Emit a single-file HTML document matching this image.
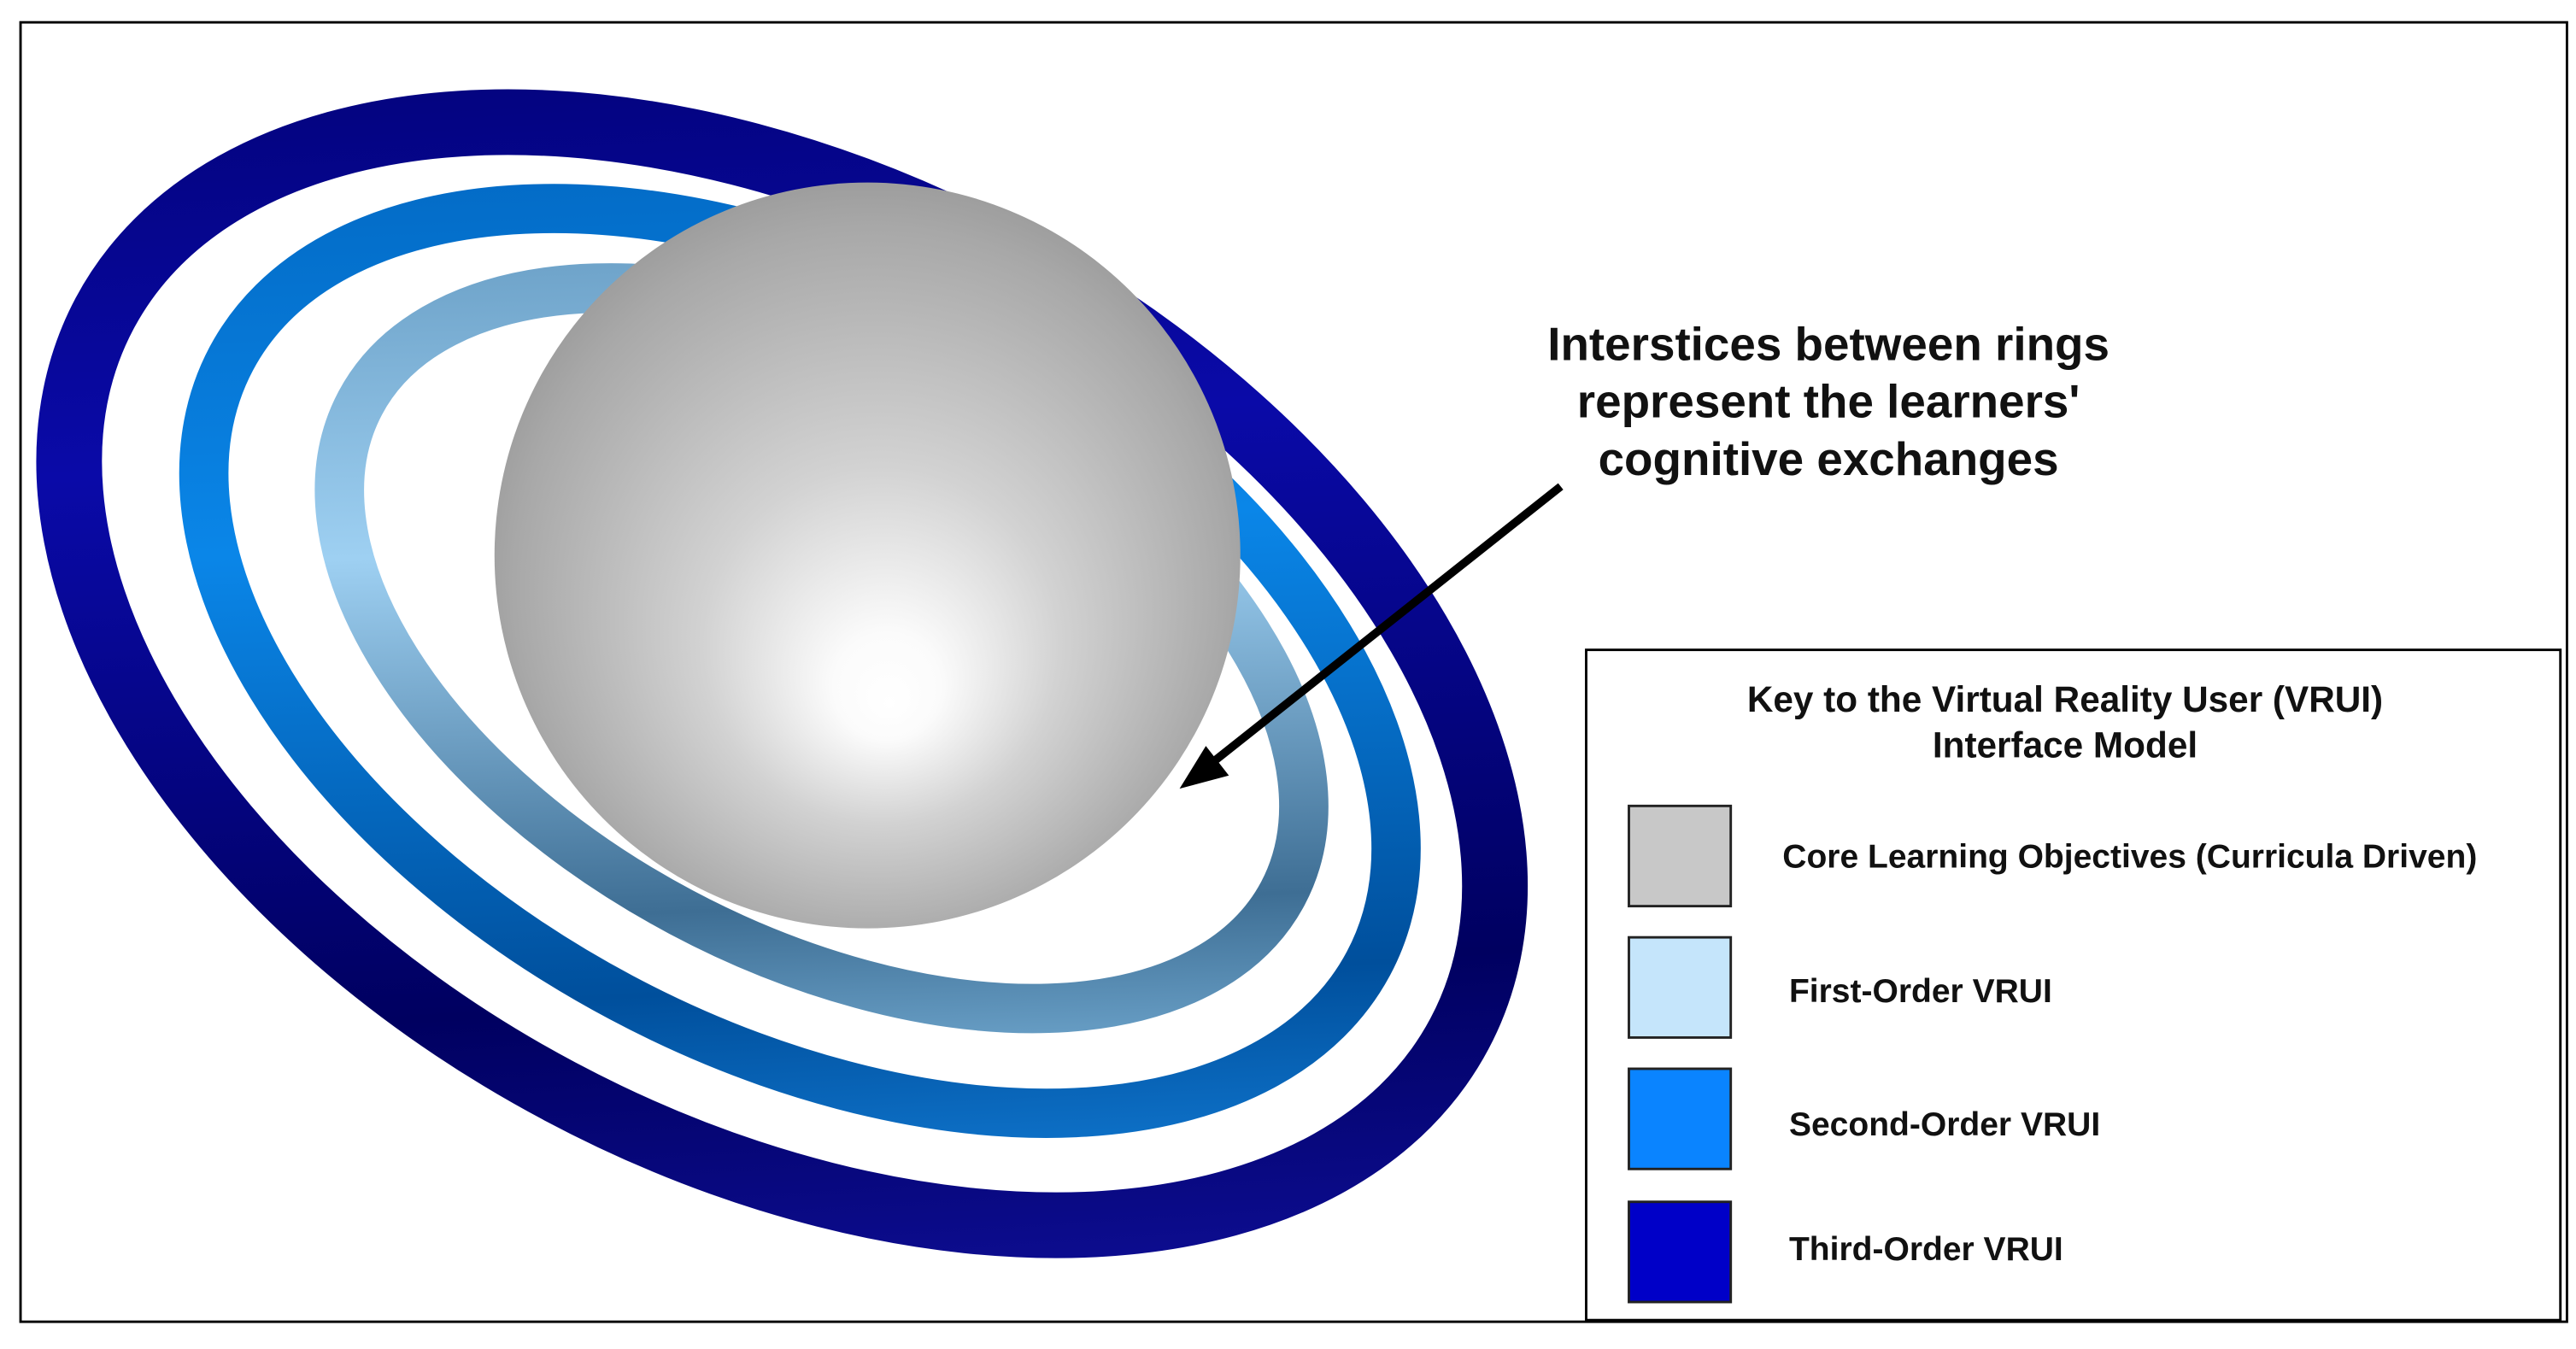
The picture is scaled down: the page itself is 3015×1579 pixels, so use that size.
<!DOCTYPE html>
<html><head><meta charset="utf-8"><style>
html,body{margin:0;padding:0;background:#fff;width:3015px;height:1579px;overflow:hidden;}
svg{display:block;}
text{font-family:"Liberation Sans",Arial,sans-serif;font-weight:bold;fill:#111;}
</style></head><body>
<svg width="3015" height="1579" viewBox="0 0 1568 821" xmlns="http://www.w3.org/2000/svg">
<defs>
<linearGradient id="g1" x1="0" y1="0" x2="1" y2="1">
<stop offset="0" stop-color="#00006a"/><stop offset="0.35" stop-color="#0a0aa8"/><stop offset="0.7" stop-color="#000060"/><stop offset="1" stop-color="#1515b0"/>
</linearGradient>
<linearGradient id="g2" x1="0" y1="0" x2="1" y2="1">
<stop offset="0" stop-color="#0060b8"/><stop offset="0.4" stop-color="#0a86e8"/><stop offset="0.75" stop-color="#004f9c"/><stop offset="1" stop-color="#1a90f0"/>
</linearGradient>
<linearGradient id="g3" x1="0" y1="0" x2="1" y2="1">
<stop offset="0" stop-color="#5a90b8"/><stop offset="0.4" stop-color="#9ed0f2"/><stop offset="0.75" stop-color="#3e6e94"/><stop offset="1" stop-color="#8cc8f0"/>
</linearGradient>
<radialGradient id="sp" cx="0.5" cy="0.5" r="0.6" fx="0.53" fy="0.7">
<stop offset="0" stop-color="#ffffff"/><stop offset="0.12" stop-color="#fbfbfb"/><stop offset="0.4" stop-color="#d2d2d2"/><stop offset="0.8" stop-color="#a8a8a8"/><stop offset="1" stop-color="#8c8c8c"/>
</radialGradient>
<marker id="ah" markerWidth="10" markerHeight="10" refX="6" refY="5" orient="auto" markerUnits="userSpaceOnUse" viewBox="0 0 10 10">
<path d="M0,0 L10,5 L0,10 z" fill="#000"/>
</marker>
</defs>
<rect x="12.5" y="13.5" width="1550" height="791" fill="none" stroke="#000" stroke-width="1.5"/>
<g transform="rotate(28 476 410)">
<ellipse cx="476" cy="410" rx="467" ry="288" fill="none" stroke="url(#g1)" stroke-width="40"/>
<ellipse cx="482" cy="398" rx="392" ry="232" fill="none" stroke="url(#g2)" stroke-width="30"/>
<ellipse cx="490" cy="385" rx="318" ry="182" fill="none" stroke="url(#g3)" stroke-width="30"/>
</g>
<circle cx="528" cy="338" r="227" fill="url(#sp)"/>
<text font-size="28.5" text-anchor="middle" x="1113" y="219">Interstices between rings</text>
<text font-size="28.5" text-anchor="middle" x="1113" y="254">represent the learners'</text>
<text font-size="28.5" text-anchor="middle" x="1113" y="289">cognitive exchanges</text>
<line x1="950" y1="296" x2="728" y2="472" stroke="#000" stroke-width="5"/>
<polygon points="718,480 734,454 748,472" fill="#000"/>
<rect x="965.5" y="395.5" width="593" height="408" fill="#fff" stroke="#000" stroke-width="1.5"/>
<text font-size="22" text-anchor="middle" x="1257" y="433">Key to the Virtual Reality User (VRUI)</text>
<text font-size="22" text-anchor="middle" x="1257" y="461">Interface Model</text>
<rect x="991.5" y="490.5" width="62" height="61" fill="#c8c8c8" stroke="#222" stroke-width="1.5"/>
<rect x="991.5" y="570.5" width="62" height="61" fill="#c5e5fb" stroke="#222" stroke-width="1.5"/>
<rect x="991.5" y="650.5" width="62" height="61" fill="#0a84ff" stroke="#222" stroke-width="1.5"/>
<rect x="991.5" y="731.5" width="62" height="61" fill="#0000c8" stroke="#222" stroke-width="1.5"/>
<text font-size="20.3" x="1085" y="528">Core Learning Objectives (Curricula Driven)</text>
<text font-size="20.3" x="1089" y="610">First-Order VRUI</text>
<text font-size="20.3" x="1089" y="691">Second-Order VRUI</text>
<text font-size="20.3" x="1089" y="767">Third-Order VRUI</text>
</svg>
</body></html>
